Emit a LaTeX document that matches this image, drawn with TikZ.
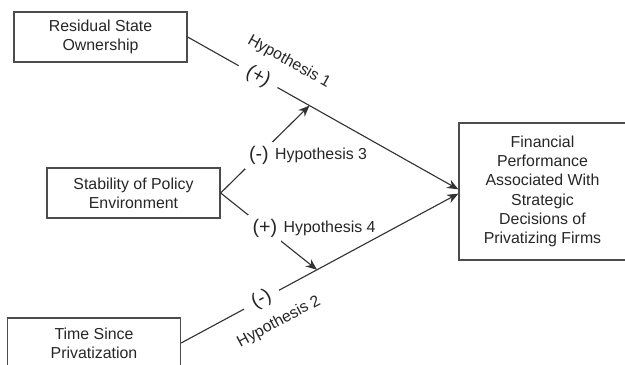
\documentclass[tikz,border=0pt]{standalone}
\usepackage{fontspec}
\setmainfont{Liberation Sans}
\usetikzlibrary{arrows, arrows.meta}
\tikzstyle{box} = [rectangle, minimum width=4.325cm, minimum height=1.25cm, text centered, align=center, draw=black!70, line width=0.9pt, text=black!85]
\tikzstyle{arrow} = [line width=0.8pt, draw=black!80, ->, >={Stealth[length=8pt, width=6.5pt]}]
\tikzstyle{sign} = [fill=white, inner xsep=3pt, inner ysep=3pt, font=\fontsize{14}{16}\selectfont, text=black!85]
\tikzstyle{hyp} = [inner sep=0pt, text=black!85]

\begin{document}
\begin{tikzpicture}[x=0.025cm, y=-0.025cm, font=\fontsize{11.3}{13.7}\selectfont]
          \useasboundingbox (0,0) rectangle (625,365);
          \node (own) [box] at (100.5,37) {Residual State\\Ownership};
          \node (sta) [box] at (133.5,193) {Stability of Policy\\Environment};
          \node (tim) [box] at (94,343) {Time Since\\Privatization};
          \node (perf) [box, minimum width=4.175cm, minimum height=3.425cm] at (542.5,191.5) {Financial\\Performance\\Associated With\\Strategic\\Decisions of\\Privatizing Firms};
          % direct effects
          \draw [arrow] (own.east) -- node[sign, sloped, pos=.26, inner xsep=7pt] (s1) {(+)} coordinate[pos=.45] (h3tip) ([yshift=1.5pt]perf.west);
          \draw [arrow] (tim.east) -- node[sign, sloped, pos=.29, inner xsep=7pt] (s2) {(-)} coordinate[pos=.49] (h4tip) ([yshift=-1.5pt]perf.west);
          \node (h1) [hyp, rotate=-29.1] at (289,62) {Hypothesis 1};
          \node (h2) [hyp, rotate=28.1] at (279,322) {Hypothesis 2};
          % moderating effects
          \draw [arrow] (sta.east) -- node[sign, pos=.43] (s3) {(-)} (h3tip);
          \draw [arrow] (sta.east) -- node[sign, pos=.46] (s4) {(+)} (h4tip);
          \node (h3) [hyp, anchor=west] at ([xshift=1pt]s3.east) {Hypothesis 3};
          \node (h4) [hyp, anchor=west] at ([xshift=1pt]s4.east) {Hypothesis 4};
        \end{tikzpicture}
\end{document}
